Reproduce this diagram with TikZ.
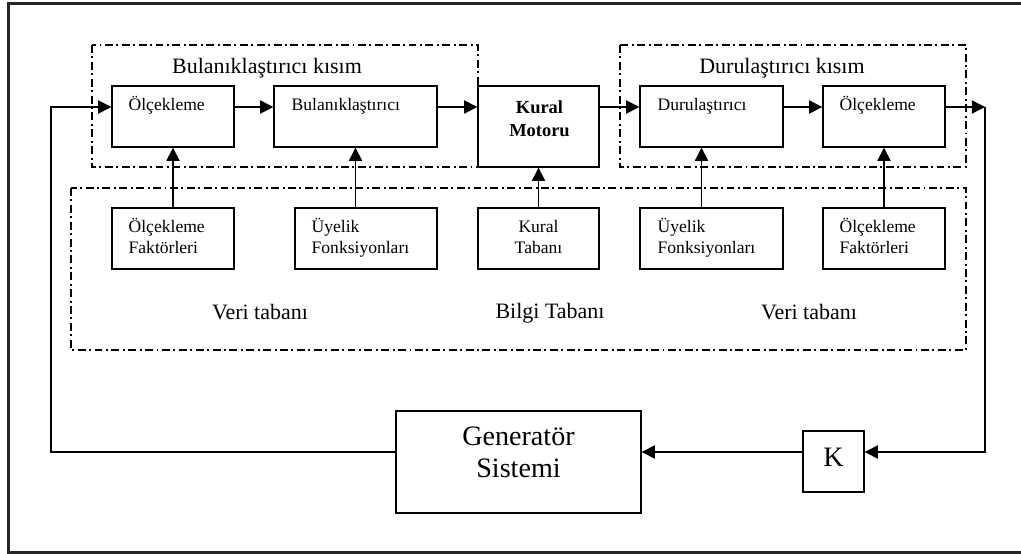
\documentclass[tikz,border=0pt]{standalone}
\usepackage{fontspec}
\setmainfont{Liberation Serif}
\usetikzlibrary{arrows.meta,positioning,calc}

\begin{document}
\begin{tikzpicture}[x=0.02cm,y=-0.02cm,>={Triangle[length=7.5pt,width=7.5pt]},
  kutu/.style={draw,line width=0.8pt,inner sep=0pt,minimum height=1.22cm},
  yazi/.style={font=\fontsize{10}{12}\selectfont,align=left,inner sep=0pt,anchor=base west},
  baslik/.style={font=\fontsize{12.5}{15}\selectfont,inner sep=0pt,anchor=base},
  bolge/.style={line width=0.6pt,dash pattern=on 4.5pt off 2pt on 1.1pt off 2pt},
  ok/.style={->,line width=0.8pt}]
  \useasboundingbox (0,0) rectangle (1021,554);
  \clip (0,0) rectangle (1021,554);
  \draw[line width=1.5pt,black!85] (1030,3.5) -- (8.5,3.5) -- (8.5,552.5) -- (1030,552.5);

  % ust sira
  \node[kutu,minimum width=2.44cm] (olc1) at (173,116.5) {};
  \node[kutu,minimum width=3.26cm] (bul) at (355.5,116.5) {};
  \node[kutu,minimum width=2.42cm,minimum height=1.62cm] (kural) at (538.5,126.5) {};
  \node[kutu,minimum width=2.86cm] (dur) at (711.5,116.5) {};
  \node[kutu,minimum width=2.44cm] (olc2) at (884,116.5) {};
  \node[yazi] (olc1y) at ($(olc1.north west)+(17,25)$) {Ölçekleme};
  \node[yazi] (buly) at ($(bul.north west)+(18,25)$) {Bulanıklaştırıcı};
  \node[yazi,anchor=base,align=center,font=\fontsize{10.5}{13}\bfseries] (kuraly)
    at ($(kural.north)+(1,51)$) {Kural\\Motoru};
  \node[yazi] (dury) at ($(dur.north west)+(18,25)$) {Durulaştırıcı};
  \node[yazi] (olc2y) at ($(olc2.north west)+(17,25)$) {Ölçekleme};

  % alt sira
  \node[kutu,minimum width=2.44cm] (fak1) at (173,238.5) {};
  \node[kutu,minimum width=2.84cm] (uye1) at (366,238.5) {};
  \node[kutu,minimum width=2.42cm] (taban) at (538.5,238.5) {};
  \node[kutu,minimum width=2.86cm] (uye2) at (711.5,238.5) {};
  \node[kutu,minimum width=2.44cm] (fak2) at (884,238.5) {};
  \node[yazi] (fak1y) at ($(fak1.north west)+(17,46)$) {Ölçekleme\\Faktörleri};
  \node[yazi] (uye1y) at ($(uye1.north west)+(17,46)$) {Üyelik\\Fonksiyonları};
  \node[yazi,anchor=base,align=center] (tabany) at ($(taban.north)+(0,46)$) {Kural\\Tabanı};
  \node[yazi] (uye2y) at ($(uye2.north west)+(18,46)$) {Üyelik\\Fonksiyonları};
  \node[yazi] (fak2y) at ($(fak2.north west)+(17,46)$) {Ölçekleme\\Faktörleri};

  % bolgeler
  \draw[bolge] (92,45) rectangle (478,167);
  \draw[bolge] (620,45) rectangle (966,167);
  \draw[bolge] (71,188) rectangle (966,350);
  \node[baslik] (bkisim) at (267,74) {Bulanıklaştırıcı kısım};
  \node[baslik] (dkisim) at (782,74) {Durulaştırıcı kısım};
  \node[baslik] (veri1) at (260,319) {Veri tabanı};
  \node[baslik] (bilgi) at (550,318) {Bilgi Tabanı};
  \node[baslik] (veri2) at (809,319) {Veri tabanı};

  % sistem
  \node[kutu,minimum width=4.9cm,minimum height=2.04cm] (gen) at (518.5,462) {};
  \node[baslik,align=center,font=\fontsize{16}{18.2}\selectfont] (geny)
    at (518.5,477) {Generatör\\Sistemi};
  \node[kutu,minimum width=1.22cm] (K) at (833.5,461.5) {};
  \node[baslik,font=\fontsize{16}{18}\selectfont] (Ky) at (833.5,466) {K};

  \coordinate (sira) at (0,107);
  \coordinate (geri) at (0,452);
  \coordinate (sol) at (51,0);
  \coordinate (cikis) at (985,107);
  \coordinate (d1) at ([xshift=-0.2cm]dur.south);

  \draw[ok] (olc1.east |- sira) -- (bul.west |- sira);
  \draw[ok] (bul.east |- sira) -- (kural.west |- sira);
  \draw[ok] (kural.east |- sira) -- (dur.west |- sira);
  \draw[ok] (dur.east |- sira) -- (olc2.west |- sira);
  \draw[ok] (olc2.east |- sira) -- (cikis);
  \draw[ok] (cikis) |- (K.east |- geri);
  \draw[ok] (K.west |- geri) -- (gen.east |- geri);
  \draw[ok] (gen.west |- geri) -- (sol |- geri) -- (sol |- sira) -- (olc1.west |- sira);

  \draw[ok] (fak1.north) -- (olc1.south);
  \draw[ok] (bul.south |- uye1.north) -- (bul.south);
  \draw[ok] (taban.north) -- (kural.south);
  \draw[ok] (d1 |- uye2.north) -- (d1);
  \draw[ok] (fak2.north) -- (olc2.south);
\end{tikzpicture}
\end{document}
